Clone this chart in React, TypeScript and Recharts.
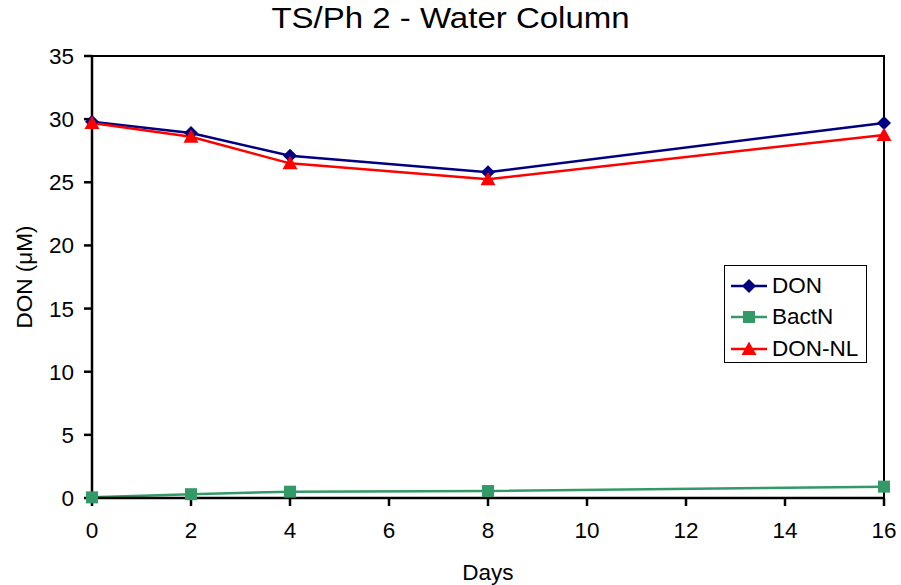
import React from 'react';
import { LineChart, Line, XAxis, YAxis, ReferenceArea } from 'recharts';

const days = [0, 2, 4, 8, 16];
const don = [29.8, 28.9, 27.1, 25.8, 29.7];
const bactN = [0.05, 0.3, 0.5, 0.55, 0.9];
const donNL = [29.7, 28.6, 26.5, 25.25, 28.75];
const xTicks = [0, 2, 4, 6, 8, 10, 12, 14, 16];
const yTicks = [0, 5, 10, 15, 20, 25, 30, 35];

const data = days.map((d, i) => ({ day: d, DON: don[i], BactN: bactN[i], 'DON-NL': donNL[i] }));

const FONT = '"Liberation Sans", Arial, sans-serif';

const Diamond = (props: any) => {
  const { cx, cy, fill } = props;
  if (cx == null || cy == null) return null;
  const r = 7;
  return <path d={`M${cx},${cy - r}L${cx + r},${cy}L${cx},${cy + r}L${cx - r},${cy}Z`} fill={fill} />;
};

const Square = (props: any) => {
  const { cx, cy, fill } = props;
  if (cx == null || cy == null) return null;
  const r = 6;
  return <rect x={cx - r} y={cy - r} width={r * 2} height={r * 2} fill={fill} />;
};

const Triangle = (props: any) => {
  const { cx, cy, fill } = props;
  if (cx == null || cy == null) return null;
  const r = 7.5;
  return <path d={`M${cx},${cy - r}L${cx + r},${cy + r * 0.8}L${cx - r},${cy + r * 0.8}Z`} fill={fill} />;
};

const series = [
  { key: 'DON', color: '#000080', Marker: Diamond },
  { key: 'BactN', color: '#339966', Marker: Square },
  { key: 'DON-NL', color: '#FF0000', Marker: Triangle },
];

const LegendBox = () => (
  <div
    style={{
      position: 'absolute',
      left: 724,
      top: 265,
      border: '1px solid #000',
      background: '#fff',
      width: 143,
      height: 98,
      boxSizing: 'border-box',
      padding: '4px 0 0 4px',
      fontFamily: FONT,
      fontSize: 22.5,
    }}
  >
    {series.map(s => (
      <div key={s.key} style={{ display: 'flex', alignItems: 'center', height: 31.5 }}>
        <svg width={40} height={20}>
          <line x1={2} y1={10} x2={38} y2={10} stroke={s.color} strokeWidth={2.5} />
          <s.Marker cx={20} cy={10} fill={s.color} />
        </svg>
        <span style={{ marginLeft: 3 }}>{s.key}</span>
      </div>
    ))}
  </div>
);

const App: React.FC = () => {
  return (
    <div style={{ position: 'absolute', left: 0, top: 0, width: 901, height: 585, background: '#fff' }}>
      <div
        style={{
          position: 'absolute',
          top: 1,
          left: 0,
          width: 901,
          textAlign: 'center',
          fontFamily: FONT,
          fontSize: 30,
          transform: 'scaleX(1.1)',
        }}
      >
        TS/Ph 2 - Water Column
      </div>
      <LineChart width={901} height={585} data={data} margin={{ top: 56, right: 17, bottom: 0, left: 0 }}>
        <ReferenceArea x1={0} x2={16} y1={0} y2={35} fill="none" stroke="#000" strokeWidth={2} />
        <XAxis
          dataKey="day"
          type="number"
          domain={[0, 16]}
          ticks={xTicks}
          height={87}
          stroke="#000"
          strokeWidth={2.5}
          tickSize={8}
          tickMargin={16}
          tick={{ fill: '#000', fontSize: 22.5, fontFamily: FONT }}
          label={{
            content: () => (
              <text x={488} y={580} textAnchor="middle" fontSize={22.5} fontFamily={FONT} fill="#000">
                Days
              </text>
            ),
          }}
        />
        <YAxis
          type="number"
          domain={[0, 35]}
          ticks={yTicks}
          width={92}
          stroke="#000"
          strokeWidth={2.5}
          tickSize={8}
          tickMargin={10}
          tick={{ fill: '#000', fontSize: 22.5, fontFamily: FONT }}
          label={{
            content: () => (
              <text
                x={32}
                y={277}
                transform="rotate(-90 32 277)"
                textAnchor="middle"
                fontSize={22.5}
                fontFamily={FONT}
                fill="#000"
              >
                DON (μM)
              </text>
            ),
          }}
        />
        {series.map(s => (
          <Line
            key={s.key}
            dataKey={s.key}
            stroke={s.color}
            strokeWidth={2.5}
            isAnimationActive={false}
            dot={(p: any) => <s.Marker key={`${s.key}-${p.index}`} cx={p.cx} cy={p.cy} fill={s.color} />}
            activeDot={false}
          />
        ))}
      </LineChart>
      <LegendBox />
    </div>
  );
};

export default App;
